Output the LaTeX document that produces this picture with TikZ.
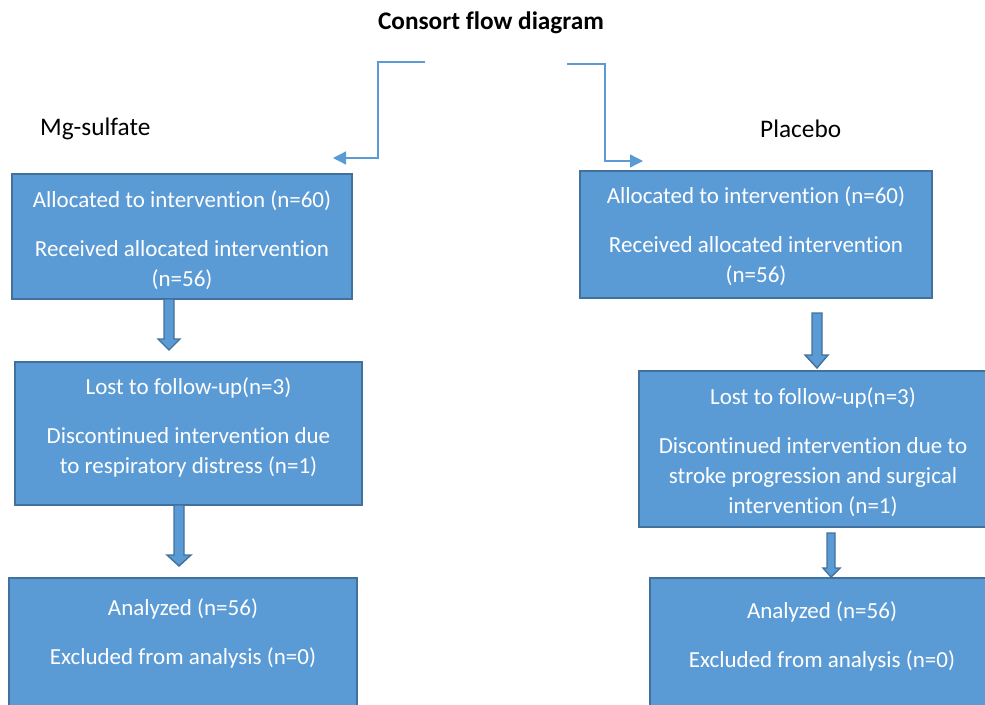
\documentclass[tikz,border=0pt]{standalone}
\usepackage{fontspec}
\setmainfont[Ligatures=NoCommon]{Carlito}
\usetikzlibrary{arrows.meta}
\definecolor{boxfill}{HTML}{5B9BD5}
\definecolor{boxline}{HTML}{41719C}
\tikzset{
  box/.style={draw=boxline, line width=1.6pt, fill=boxfill},
  boxtext/.style={text=white, align=center, font=\fontsize{23}{30}\selectfont, inner sep=0pt},
  plain/.style={text=black, font=\fontsize{25.3}{30}\selectfont, inner sep=0pt},
  link/.style={draw=boxfill, line width=1.3pt, -{Triangle[length=13pt,width=13pt]}},
  blk/.style={draw=boxline, line width=1.4pt, fill=boxfill, line join=miter}
}
\begin{document}
\begin{tikzpicture}[x=1pt,y=-1pt]
\useasboundingbox (0,0) rectangle (985,704);
\clip (0,0) rectangle (985,704);

% titles
\node[plain, font=\fontsize{25.3}{30}\selectfont\bfseries] (title) at (491,23) {Consort flow diagram};
\node[plain, anchor=west] (mg) at (40,128.5) {Mg-sulfate};
\node[plain, anchor=west] (pl) at (760,128.5) {Placebo};

% boxes
\path[box] (12,174) rectangle (352,299);
\path[box] (15,362) rectangle (362,505);
\path[box] (9,578) rectangle (357,720);
\path[box] (580,171) rectangle (932,298);
\path[box] (639,371) rectangle (988,527);
\path[box] (650,578) rectangle (995,720);

% texts
\node[boxtext] (L1) at (182,240) {Allocated to intervention (n=60)\\[19pt]Received allocated intervention\\(n=56)};
\node[boxtext] (L2) at (188.5,427) {Lost to follow-up(n=3)\\[19pt]Discontinued intervention due\\to respiratory distress (n=1)};
\node[boxtext] (L3) at (183,633.5) {Analyzed (n=56)\\[19pt]Excluded from analysis (n=0)};
\node[boxtext] (R1) at (756,236) {Allocated to intervention (n=60)\\[19pt]Received allocated intervention\\(n=56)};
\node[boxtext] (R2) at (813,452) {Lost to follow-up(n=3)\\[19pt]Discontinued intervention due to\\stroke progression and surgical\\intervention (n=1)};
\node[boxtext] (R3) at (822,636) {Analyzed (n=56)\\[19pt]Excluded from analysis (n=0)};

% top connectors
\coordinate (sL) at (425,62);
\coordinate (eL) at (333,158);
\coordinate (sR) at (567,64);
\coordinate (eR) at (643,161);
\draw[link] (sL) -- (378,62) -- (378,158) -- (eL);
\draw[link] (sR) -- (605,64) -- (605,161) -- (eR);

% block arrows
\path[blk] (164,299) -- (174,299) -- (174,339) -- (180,339) -- (169,350) -- (158,339) -- (164,339) -- cycle;
\path[blk] (174,505) -- (184,505) -- (184,555) -- (191,555) -- (179,566) -- (167,555) -- (174,555) -- cycle;
\path[blk] (812,313) -- (822,313) -- (822,355) -- (828,355) -- (817,368) -- (805,355) -- (812,355) -- cycle;
\path[blk] (827,533) -- (835,533) -- (835,568) -- (840,568) -- (831,577) -- (823,568) -- (827,568) -- cycle;
\end{tikzpicture}
\end{document}
